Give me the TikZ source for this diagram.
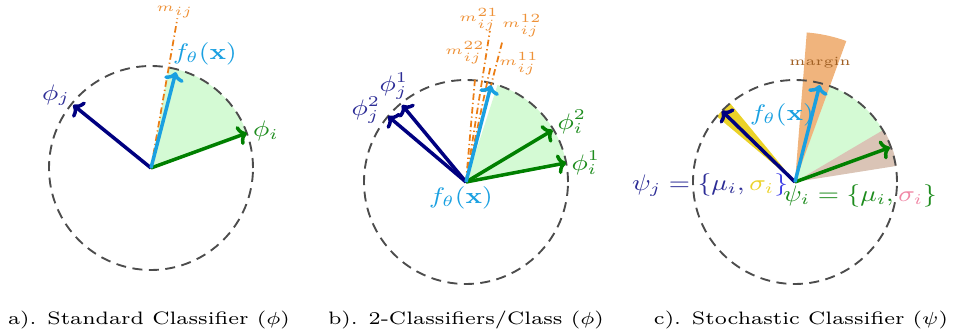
\documentclass[tikz,border=0pt]{standalone}
\usepackage{graphicx}
\usetikzlibrary{arrows.meta}
\definecolor{clsnavy}{RGB}{0,0,128}
\definecolor{lblnavy}{RGB}{45,45,150}
\definecolor{featcyan}{RGB}{26,160,225}
\definecolor{clsgreen}{RGB}{0,128,0}
\definecolor{lblgreen}{RGB}{30,140,30}
\definecolor{sectgreen}{RGB}{212,250,212}
\definecolor{mline}{RGB}{235,125,20}
\definecolor{marginorange}{RGB}{240,180,125}
\definecolor{marginbrown}{RGB}{160,95,35}
\definecolor{varyellow}{RGB}{235,210,40}
\definecolor{vartan}{RGB}{218,196,182}
\definecolor{sigpink}{RGB}{240,135,165}
\definecolor{braceblue}{RGB}{60,60,230}
\newcommand{\xwide}[1]{\scalebox{1.18}[1]{#1}}
\tikzset{
  unitring/.style={draw=black!70, line width=0.75pt, dash pattern=on 4pt off 2.6pt},
  vecarrow/.style={-{To[length=3.6pt,width=8pt]}, line width=1.4pt},
  margline/.style={draw=mline, line width=0.7pt, dash pattern=on 2.6pt off 1.2pt on 0.5pt off 1.2pt},
  lbl/.style={font=\fontsize{8.8}{10.5}\selectfont, inner sep=0pt},
  mlbl/.style={font=\tiny, inner sep=0pt, text=mline!85},
  capt/.style={font=\fontsize{7.2}{8.6}\selectfont, inner sep=0pt},
}
\begin{document}
\begin{tikzpicture}[x=0.4pt, y=0.4pt]
  \useasboundingbox (0,0) rectangle (956,333);

  % a) standard classifier
  \begin{scope}[shift={(151,165)}]
    \coordinate (a-o) at (0,0);
    \coordinate (a-j) at (141:100);
    \coordinate (a-i) at (20:102);
    \coordinate (a-f) at (75.5:99);
    \coordinate (a-m) at (80:152);
    \fill[sectgreen] (a-o) -- (20:102) arc[start angle=20, end angle=80, radius=102] -- cycle;
    \draw[unitring] (a-o) circle[radius=102];
    \draw[margline] (a-o) -- (a-m);
    \draw[vecarrow, clsnavy] (a-o) -- (a-j);
    \draw[vecarrow, clsgreen] (a-o) -- (a-i);
    \draw[vecarrow, featcyan] (a-o) -- (a-f);
    \node[mlbl] (a-mlbl) at (24,156) {\xwide{$m_{ij}$}};
    \node[lbl, text=featcyan] (a-flbl) at (54,114) {\xwide{$f_\theta(\mathbf{x})$}};
    \node[lbl, text=lblnavy] (a-jlbl) at (-95,73) {\xwide{$\phi_j$}};
    \node[lbl, text=lblgreen] (a-ilbl) at (115,37) {\xwide{$\phi_i$}};
  \end{scope}

  % b) two classifiers per class
  \begin{scope}[shift={(466,151)}]
    \coordinate (b-o) at (0,0);
    \coordinate (b-j1) at (129.7:100);
    \coordinate (b-j2) at (139.8:102);
    \coordinate (b-i1) at (10.8:102);
    \coordinate (b-i2) at (30.9:101);
    \coordinate (b-f) at (75.5:100);
    \coordinate (b-m22) at (85:105);
    \coordinate (b-m11) at (78:118);
    \coordinate (b-m21) at (81:153);
    \coordinate (b-m12) at (75.5:146);
    \fill[sectgreen] (b-o) -- (10.8:102) arc[start angle=10.8, end angle=72, radius=102] -- cycle;
    \draw[unitring] (b-o) circle[radius=102];
    \foreach \m in {22,11,21,12}
      \draw[margline] (b-o) -- (b-m\m);
    \draw[vecarrow, clsnavy] (b-o) -- (b-j1);
    \draw[vecarrow, clsnavy] (b-o) -- (b-j2);
    \draw[vecarrow, clsgreen] (b-o) -- (b-i1);
    \draw[vecarrow, clsgreen] (b-o) -- (b-i2);
    \draw[vecarrow, featcyan] (b-o) -- (b-f);
    \node[mlbl] (b-m21lbl) at (13,162) {\xwide{$m_{ij}^{21}$}};
    \node[mlbl] (b-m12lbl) at (56,156) {\xwide{$m_{ij}^{12}$}};
    \node[mlbl] (b-m22lbl) at (-1,129) {\xwide{$m_{ij}^{22}$}};
    \node[mlbl] (b-m11lbl) at (53,118) {\xwide{$m_{ij}^{11}$}};
    \node[lbl, text=lblnavy] (b-j1lbl) at (-72,96) {\xwide{$\phi_j^1$}};
    \node[lbl, text=lblnavy] (b-j2lbl) at (-100,72) {\xwide{$\phi_j^2$}};
    \node[lbl, text=lblgreen] (b-i2lbl) at (106,60) {\xwide{$\phi_i^2$}};
    \node[lbl, text=lblgreen] (b-i1lbl) at (120,19) {\xwide{$\phi_i^1$}};
    \node[lbl, text=featcyan] (b-flbl) at (-5,-16) {\xwide{$f_\theta(\mathbf{x})$}};
  \end{scope}

  % c) stochastic classifier
  \begin{scope}[shift={(795,151)}]
    \coordinate (c-o) at (0,0);
    \coordinate (c-j) at (135.8:102);
    \coordinate (c-i) at (20:101);
    \coordinate (c-f) at (75.7:100);
    \fill[sectgreen] (c-o) -- (20:102) arc[start angle=20, end angle=72, radius=102] -- cycle;
    \fill[vartan] (c-o) -- (9:103) arc[start angle=9, end angle=30.5, radius=103] -- cycle;
    \fill[marginorange] (c-o) -- (70:150) arc[start angle=70, end angle=85.5, radius=150] -- cycle;
    \fill[varyellow] (c-o) -- (129.5:102) arc[start angle=129.5, end angle=140, radius=102] -- cycle;
    \draw[unitring] (c-o) circle[radius=102];
    \draw[vecarrow, clsnavy] (c-o) -- (c-j);
    \draw[vecarrow, clsgreen] (c-o) -- (c-i);
    \draw[vecarrow, featcyan] (c-o) -- (c-f);
    \node[mlbl, text=marginbrown] (c-mlbl) at (25,119) {\xwide{margin}};
    \node[lbl, text=featcyan] (c-flbl) at (-13,67) {\xwide{$f_\theta(\mathbf{x})$}};
    \node[lbl, text=lblnavy] (c-jlbl) at (-85,-3) {\xwide{$\psi_j = \{\mu_i, \textcolor{varyellow}{\sigma_i}\textcolor{braceblue}{\}}$}};
    \node[lbl, text=lblgreen] (c-ilbl) at (65,-14) {\xwide{$\psi_i = \{\mu_i, \textcolor{sigpink}{\sigma_i}\}$}};
  \end{scope}

  % captions
  \node[capt] (capa) at (149,13) {\xwide{a). Standard Classifier ($\phi$)}};
  \node[capt] (capb) at (466,13) {\xwide{b). 2-Classifiers/Class ($\phi$)}};
  \node[capt] (capc) at (801,13) {\xwide{c). Stochastic Classifier ($\psi$)}};
\end{tikzpicture}
\end{document}
